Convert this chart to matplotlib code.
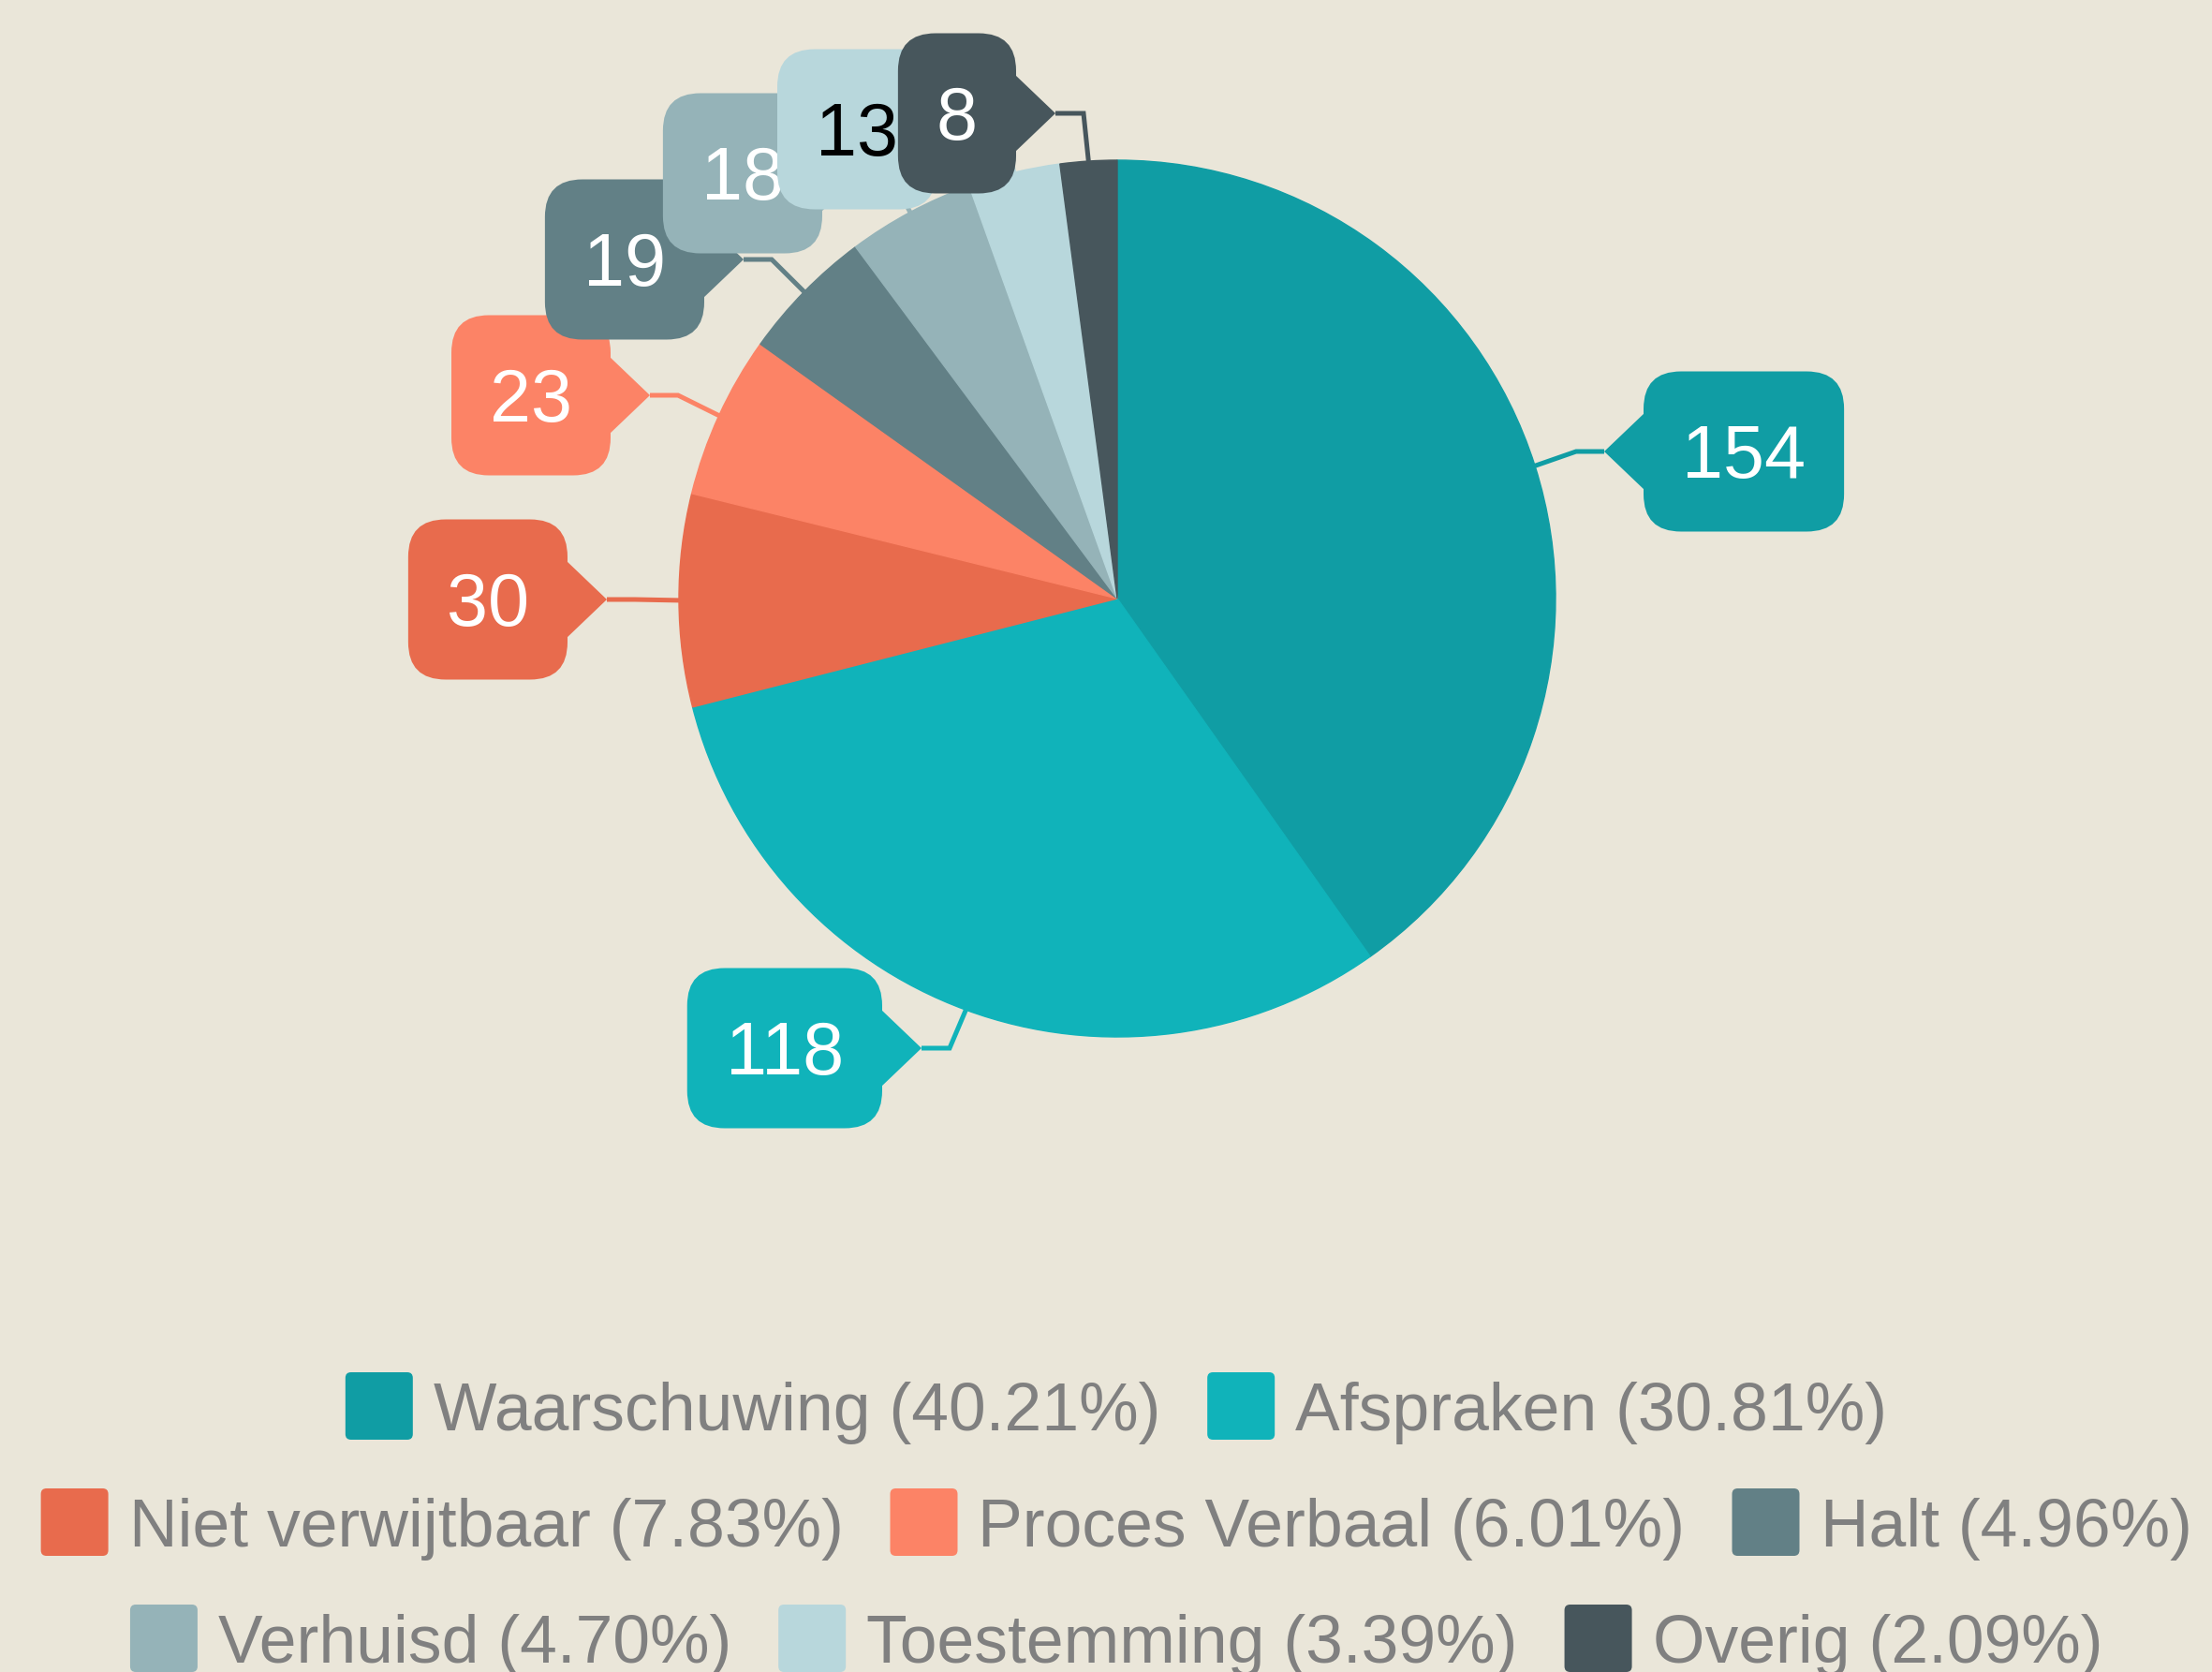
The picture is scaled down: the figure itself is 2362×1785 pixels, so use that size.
import matplotlib
matplotlib.use('Agg')
import matplotlib.pyplot as plt
from matplotlib.patches import FancyBboxPatch, Polygon
import numpy as np

categories = ['Waarschuwing', 'Afspraken', 'Niet verwijtbaar', 'Proces Verbaal',
              'Halt', 'Verhuisd', 'Toestemming', 'Overig']
values = [154, 118, 30, 23, 19, 18, 13, 8]
colors = ['#109DA4', '#10B3BA', '#E86B4D', '#FC8366',
          '#628086', '#95B3B8', '#B8D7DC', '#47565C']
text_colors = ['white', 'white', 'white', 'white', 'white', 'white', 'black', 'white']
legend_rows = [[0, 1], [2, 3, 4], [5, 6, 7]]

# callout pointer tips (pixels from top-left) and the side the box sits on
label_tips = [(1713, 482, 'right'), (984, 1119, 'left'), (648, 640, 'left'),
              (694, 422, 'left'), (794, 277, 'left'), (920, 185, 'left'),
              (1042, 138, 'left'), (1127, 121, 'left')]

W, H = 2362, 1785
bg = '#EAE6D9'
font = 'Liberation Sans'


def px(x, y):
    return x, H - y


fig = plt.figure(figsize=(W / 100, H / 100), dpi=100)
fig.patch.set_facecolor(bg)
ax = fig.add_axes([0, 0, 1, 1])
ax.set_facecolor(bg)

cx, cy = px(1193, 639)
R = 468
wedges, _ = ax.pie(values, colors=colors, startangle=90, counterclock=False,
                   center=(cx, cy), radius=R, wedgeprops=dict(linewidth=1))
for w, c in zip(wedges, colors):
    w.set_edgecolor(c)
ax.set_xlim(0, W)
ax.set_ylim(0, H)
ax.axis('off')

renderer = fig.canvas.get_renderer()

# data labels
label_pt = 57
em = label_pt * 100 / 72
pad_x = 41
box_h = 171
tip_len = 42
half_base = 42
for i, (w, v) in enumerate(zip(wedges, values)):
    tx, ty, side = label_tips[i]
    tx, ty = px(tx, ty)
    z = 10 + 2 * i
    t = ax.text(0, 0, str(v), fontsize=label_pt, color=text_colors[i], family=font,
                ha='center', va='baseline', zorder=z + 1)
    bw = t.get_window_extent(renderer).width + 2 * pad_x
    if side == 'right':
        x0 = tx + tip_len
        edge = x0 + 2
        bend = tx - 30
    else:
        x0 = tx - tip_len - bw
        edge = tx - tip_len - 2
        bend = tx + 30
    ax.add_patch(FancyBboxPatch((x0, ty - box_h / 2), bw, box_h,
                                boxstyle='round,pad=0,rounding_size=40',
                                fc=colors[i], ec='none', zorder=z))
    ax.add_patch(Polygon([(edge, ty + half_base), (tx, ty), (edge, ty - half_base)],
                         closed=True, fc=colors[i], ec='none', zorder=z))
    t.set_position((x0 + bw / 2, ty - 0.716 * em / 2))
    mid = np.deg2rad((w.theta1 + w.theta2) / 2)
    sx, sy = cx + R * np.cos(mid), cy + R * np.sin(mid)
    ax.plot([sx, bend, tx], [sy, ty, ty], color=colors[i], lw=3.6, zorder=2,
            solid_capstyle='butt', solid_joinstyle='miter')

# legend
total = sum(values)
leg_pt = 51.5
leg_em = leg_pt * 100 / 72
row_y = [1501, 1625, 1749]
sq = 72
gap_txt = 22
gap_item = 50
leg_cx = 1192
for r, row in enumerate(legend_rows):
    texts = []
    widths = []
    for i in row:
        s = f'{categories[i]} ({values[i] / total * 100:.2f}%)'
        t = ax.text(0, 0, s, fontsize=leg_pt, color='#808080', family=font,
                    ha='left', va='baseline')
        texts.append(t)
        widths.append(t.get_window_extent(renderer).width)
    row_w = sum(sq + gap_txt + tw for tw in widths) + gap_item * (len(row) - 1)
    x = leg_cx - row_w / 2
    yc = H - row_y[r]
    for i, t, tw in zip(row, texts, widths):
        ax.add_patch(FancyBboxPatch((x, yc - sq / 2), sq, sq,
                                    boxstyle='round,pad=0,rounding_size=6',
                                    fc=colors[i], ec='none'))
        t.set_position((x + sq + gap_txt, yc - 0.716 * leg_em / 2))
        x += sq + gap_txt + tw + gap_item

fig.savefig('out.png', dpi=100, facecolor=bg)
